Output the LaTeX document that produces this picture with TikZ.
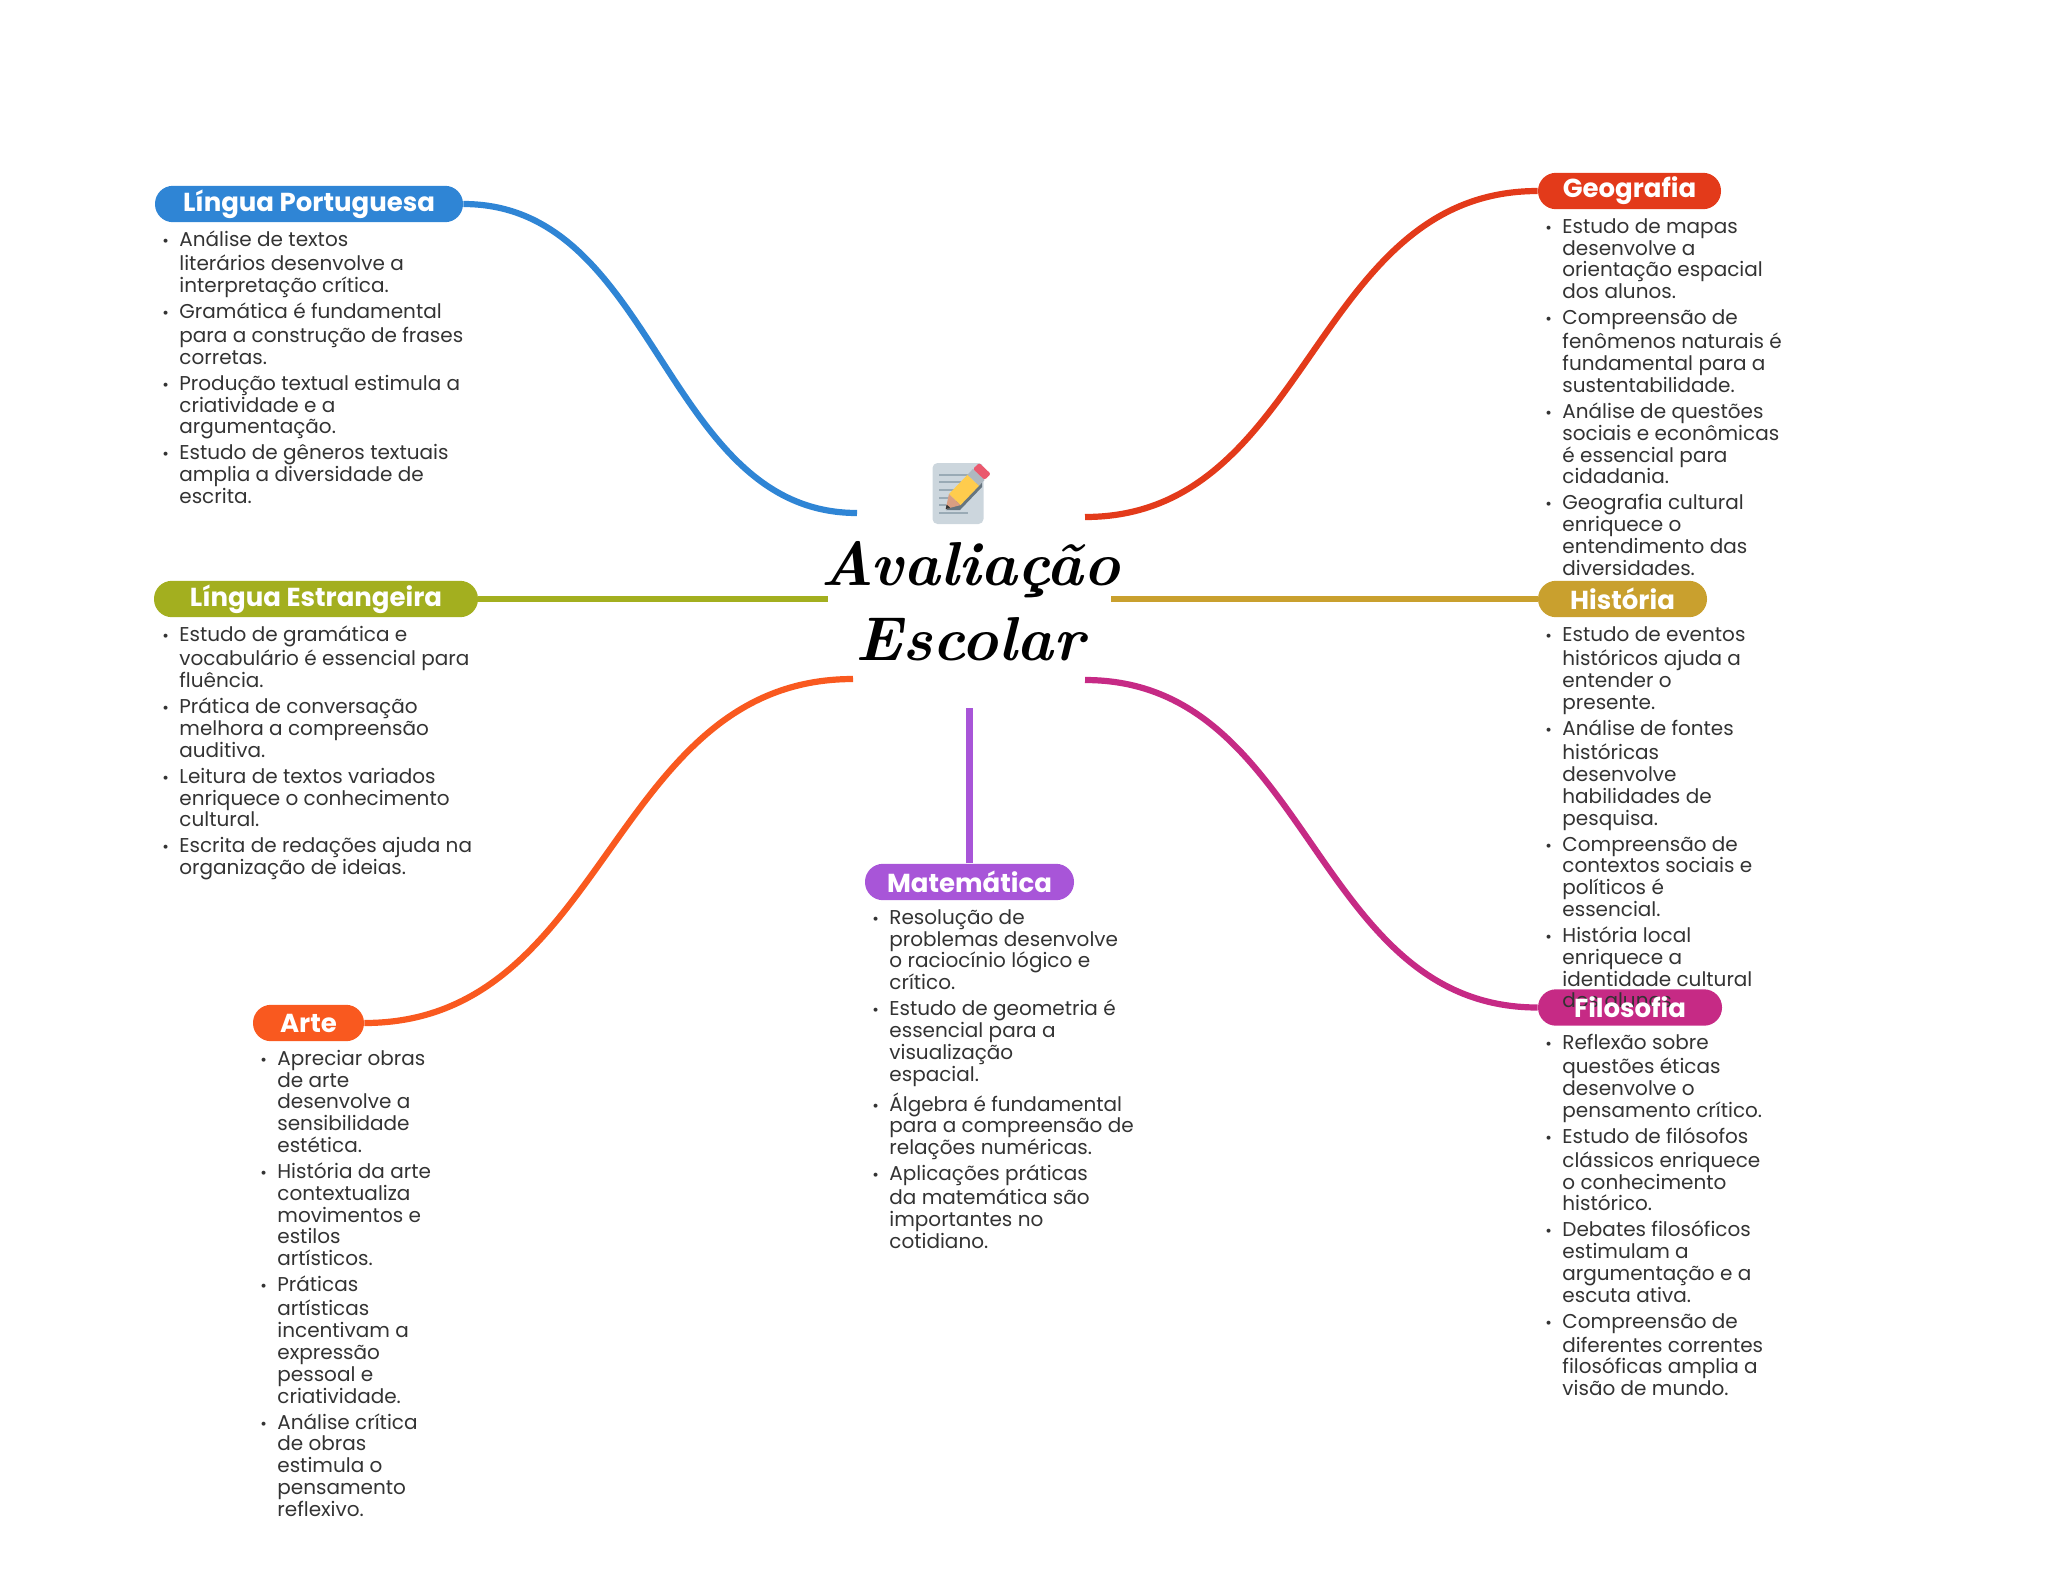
\documentclass[tikz,border=0pt]{standalone}
\usepackage{fontspec}
\setmainfont{Poppins}
\newfontfamily\titlefont{Latin Modern Roman}
\definecolor{cblue}{HTML}{2F85D5}
\definecolor{cred}{HTML}{E33A1A}
\definecolor{colive}{HTML}{A3AF1F}
\definecolor{cgold}{HTML}{C9A02E}
\definecolor{corange}{HTML}{F9591F}
\definecolor{cmag}{HTML}{C62A85}
\definecolor{cpurple}{HTML}{A855D8}
\definecolor{ctext}{HTML}{333333}
\definecolor{icpaper}{HTML}{CCD6DD}
\definecolor{icline}{HTML}{99AAB5}
\definecolor{icshadow}{HTML}{66757F}
\definecolor{icyellow}{HTML}{FFCC4D}
\definecolor{icmetal}{HTML}{AEB8C0}
\definecolor{iceraser}{HTML}{EA596E}
\definecolor{icwood}{HTML}{D99E82}
\newcommand{\bl}{\leavevmode\strut\llap{{\fontsize{8}{8}\selectfont •}\hspace{5.2pt}}}
\tikzset{
  x=0.5pt,y=-0.5pt,
  pill/.style={rounded corners=9pt,inner sep=0pt,minimum height=18.2pt,text=white,
     font=\fontsize{13}{15}\selectfont\bfseries},
  pilltext/.style={inner sep=0pt,text=white,font=\fontsize{13}{15}\selectfont\bfseries},
  body/.style={anchor=north west,inner sep=0pt,align=left,text=ctext,
     font=\fontsize{10}{10.9}\selectfont},
  link/.style={line width=3.1pt,line cap=butt},
  title/.style={inner sep=0pt,align=center,text=black,
     font=\titlefont\fontsize{31}{37.5}\selectfont\bfseries\itshape},
}
\begin{document}
\begin{tikzpicture}
\useasboundingbox (0,0) rectangle (2048,1569);
% centre
\node[title] (center) at (970,601) {Avaliação\\Escolar};
\coordinate (cLP) at (857,513);
\coordinate (cGE) at (1085,517);
\coordinate (cLE) at (828,599);
\coordinate (cHI) at (1111,599);
\coordinate (cAR) at (853,679);
\coordinate (cFI) at (1085,680);
\coordinate (cMA) at (969.5,708);
% icon
\fill[rounded corners=2.5pt,icpaper] (932.5,463) rectangle (983.5,524);
\foreach \yy/\xx in {475/972,482/968,490/960,498/952,505/946,513/968}
  \draw[line width=1pt,icline] (939,\yy) -- (\xx,\yy);
\fill[icshadow] (946,510) -- (960,510) -- (982,487) -- (982,478) -- cycle;
\fill[icyellow] (960.5,505.1) -- (948.9,494.1) -- (967.5,474.7) -- (979.1,485.7) -- cycle;
\fill[icmetal] (967.5,474.7) -- (973,468.9) -- (984.6,479.9) -- (979.1,485.7) -- cycle;
\fill[rounded corners=1pt,iceraser] (973,468.9) -- (979.2,462.9) -- (990.8,473.9) -- (984.6,479.9) -- cycle;
\fill[icwood] (945.7,509) -- (948.9,494.1) -- (960.5,505.1) -- cycle;
\fill[black!80] (945.7,509) -- (946.6,504.5) -- (950.4,508) -- cycle;
% pills
\node[pill,fill=cblue,minimum width=154pt] (lp) at (309,204) {Língua Portuguesa};
\node[pill,fill=cred,minimum width=91.5pt] (ge) at (1629.5,191) {Geografia};
\node[pill,fill=colive,minimum width=162pt] (le) at (316,599) {Língua Estrangeira};
\node[pill,fill=cgold,minimum width=84.5pt] (hi) at (1622.5,599) {História};
\node[pill,fill=cmag,minimum width=92pt] (fi) at (1630,1007.5) {};
\node[pill,fill=corange,minimum width=55.5pt] (ar) at (308.5,1023) {Arte};
\node[pill,fill=cpurple,minimum width=104.5pt] (ma) at (969.5,882) {Matemática};
% connectors
\draw[link,cblue] (lp.east) .. controls +(194,0) and +(-194,0) .. (cLP);
\draw[link,cred] (ge.west) .. controls +(-226,0) and +(226,0) .. (cGE);
\draw[link,colive] (le.east) -- (cLE);
\draw[link,cgold] (hi.west) -- (cHI);
\draw[link,corange] (ar.east) .. controls +(244,0) and +(-244,0) .. (cAR);
\draw[link,cmag] (fi.west) .. controls +(-226,0) and +(226,0) .. (cFI);
\draw[link,cpurple] (ma.north) -- (cMA);
% bodies
\node[body] (blp) at (179,230.7) {\bl Análise de textos\\literários desenvolve a\\interpretação crítica.\\[2.1pt]\bl Gramática é fundamental\\para a construção de frases\\corretas.\\[2.1pt]\bl Produção textual estimula a\\criatividade e a\\argumentação.\\[2.1pt]\bl Estudo de gêneros textuais\\amplia a diversidade de\\escrita.};
\node[body] (bge) at (1562,217.7) {\bl Estudo de mapas\\desenvolve a\\orientação espacial\\dos alunos.\\[2.1pt]\bl Compreensão de\\fenômenos naturais é\\fundamental para a\\sustentabilidade.\\[2.1pt]\bl Análise de questões\\sociais e econômicas\\é essencial para\\cidadania.\\[2.1pt]\bl Geografia cultural\\enriquece o\\entendimento das\\diversidades.};
\node[body] (ble) at (179,625.7) {\bl Estudo de gramática e\\vocabulário é essencial para\\fluência.\\[2.1pt]\bl Prática de conversação\\melhora a compreensão\\auditiva.\\[2.1pt]\bl Leitura de textos variados\\enriquece o conhecimento\\cultural.\\[2.1pt]\bl Escrita de redações ajuda na\\organização de ideias.};
\node[body] (bhi) at (1562,625.7) {\bl Estudo de eventos\\históricos ajuda a\\entender o\\presente.\\[2.1pt]\bl Análise de fontes\\históricas\\desenvolve\\habilidades de\\pesquisa.\\[2.1pt]\bl Compreensão de\\contextos sociais e\\políticos é\\essencial.\\[2.1pt]\bl História local\\enriquece a\\identidade cultural\\dos alunos.};
\node[body] (bma) at (889,908.7) {\bl Resolução de\\problemas desenvolve\\o raciocínio lógico e\\crítico.\\[2.1pt]\bl Estudo de geometria é\\essencial para a\\visualização\\espacial.\\[2.1pt]\bl Álgebra é fundamental\\para a compreensão de\\relações numéricas.\\[2.1pt]\bl Aplicações práticas\\da matemática são\\importantes no\\cotidiano.};
\node[body] (bar) at (277,1049.7) {\bl Apreciar obras\\de arte\\desenvolve a\\sensibilidade\\estética.\\[2.1pt]\bl História da arte\\contextualiza\\movimentos e\\estilos\\artísticos.\\[2.1pt]\bl Práticas\\artísticas\\incentivam a\\expressão\\pessoal e\\criatividade.\\[2.1pt]\bl Análise crítica\\de obras\\estimula o\\pensamento\\reflexivo.};
\node[body] (bfi) at (1562,1033.7) {\bl Reflexão sobre\\questões éticas\\desenvolve o\\pensamento crítico.\\[2.1pt]\bl Estudo de filósofos\\clássicos enriquece\\o conhecimento\\histórico.\\[2.1pt]\bl Debates filosóficos\\estimulam a\\argumentação e a\\escuta ativa.\\[2.1pt]\bl Compreensão de\\diferentes correntes\\filosóficas amplia a\\visão de mundo.};
\node[pilltext] (fit) at (fi.center) {Filosofia};
\end{tikzpicture}
\end{document}
